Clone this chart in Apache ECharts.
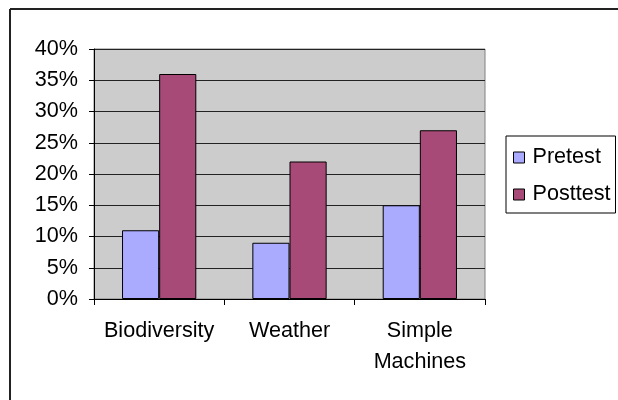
<!DOCTYPE html>
<html>
<head>
<meta charset="utf-8">
<script src="https://cdn.jsdelivr.net/npm/echarts@6/dist/echarts.min.js"></script>
<style>
  html, body { margin: 0; padding: 0; background: #fff; }
  #chart { width: 618px; height: 400px; }
</style>
</head>
<body>
<div id="chart"></div>
<script>
// Topic scores, percent of students
const categories = ['Biodiversity', 'Weather', 'Simple Machines'];
const pretest = [11, 9, 15];
const posttest = [36, 22, 27];
const seriesNames = ['Pretest', 'Posttest'];
const yTicks = { min: 0, max: 40, step: 5 };

const FONT = '"Liberation Sans", Arial, sans-serif';
const FONT_SIZE = 21.6;

const chart = echarts.init(document.getElementById('chart'), null, { renderer: 'canvas' });

chart.setOption({
  backgroundColor: '#ffffff',
  animation: false,
  textStyle: { fontFamily: FONT, color: '#000' },
  graphic: [
    // frame around the chart area (top and left edges)
    { type: 'line', shape: { x1: 10, y1: 9, x2: 620, y2: 9 }, style: { stroke: '#222', lineWidth: 2 }, silent: true },
    { type: 'line', shape: { x1: 10, y1: 9, x2: 10, y2: 402 }, style: { stroke: '#222', lineWidth: 2 }, silent: true }
  ],
  grid: {
    left: 94, top: 49, width: 391, height: 250,
    show: true,
    backgroundColor: '#cccccc',
    borderColor: '#808080',
    borderWidth: 1,
    containLabel: false
  },
  legend: {
    data: seriesNames,
    orient: 'vertical',
    left: 506,
    top: 136,
    padding: [10, 5, 7, 7],
    itemGap: 14,
    itemWidth: 11,
    itemHeight: 11,
    icon: 'rect',
    backgroundColor: '#ffffff',
    borderColor: '#000',
    borderWidth: 1,
    borderRadius: 0,
    textStyle: { fontFamily: FONT, fontSize: FONT_SIZE, color: '#000', padding: [0, 0, 0, 3], lineHeight: 23 },
    itemStyle: { borderColor: '#000', borderWidth: 1 }
  },
  xAxis: {
    type: 'category',
    data: categories,
    axisLine: { show: true, lineStyle: { color: '#000', width: 1 } },
    axisTick: { show: true, length: 6, alignWithLabel: false, lineStyle: { color: '#000' } },
    axisLabel: {
      fontFamily: FONT, fontSize: FONT_SIZE, color: '#000', lineHeight: 31, margin: 17,
      interval: 0,
      formatter: (v) => v.split(' ').join('\n')
    },
    splitLine: { show: false }
  },
  yAxis: {
    type: 'value',
    min: yTicks.min,
    max: yTicks.max,
    interval: yTicks.step,
    axisLine: { show: true, lineStyle: { color: '#000', width: 1 } },
    axisTick: { show: true, length: 5, lineStyle: { color: '#000' } },
    axisLabel: { fontFamily: FONT, fontSize: FONT_SIZE, color: '#000', margin: 16, formatter: '{value}%' },
    splitLine: { show: true, lineStyle: { color: '#222', width: 1 } }
  },
  series: [
    {
      name: seriesNames[0],
      type: 'bar',
      data: pretest,
      barGap: '0%',
      barCategoryGap: '43%',
      itemStyle: { color: '#aaaaff', borderColor: '#000', borderWidth: 1 }
    },
    {
      name: seriesNames[1],
      type: 'bar',
      data: posttest,
      barGap: '0%',
      barCategoryGap: '43%',
      itemStyle: { color: '#a84a77', borderColor: '#000', borderWidth: 1 }
    }
  ]
});
</script>
</body>
</html>
